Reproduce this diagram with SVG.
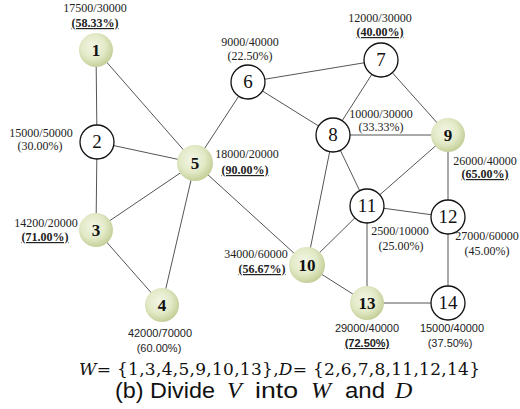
<svg xmlns="http://www.w3.org/2000/svg" width="520" height="409" viewBox="0 0 520 409">
<defs>
<radialGradient id="g" cx="0.42" cy="0.4" r="0.6">
<stop offset="0" stop-color="#f3f6e6"/>
<stop offset="0.6" stop-color="#e2e9c6"/>
<stop offset="1" stop-color="#c4d09a"/>
</radialGradient>
<style>
.e{stroke:#555;stroke-width:1;fill:none}
.w{fill:url(#g);stroke:none}
.d{fill:#fff;stroke:#111;stroke-width:1.3}
.nb{font-family:"Liberation Serif","Times New Roman",serif;font-weight:bold;font-size:17px;text-anchor:middle;fill:#111}
.nd{font-family:"Liberation Serif","Times New Roman",serif;font-size:19px;text-anchor:middle;fill:#111}
.l{font-family:"Liberation Serif","Times New Roman",serif;font-size:12px;text-anchor:middle;fill:#222}
.ls{font-family:"Liberation Sans",Arial,sans-serif;font-size:11px;text-anchor:middle;fill:#222}
.b{font-weight:bold;text-decoration:underline}
.m{font-family:"DejaVu Serif","Liberation Serif",serif;font-size:17px;fill:#111}
.c{font-family:"Liberation Sans",sans-serif;font-size:22px;fill:#111}
.i{font-family:"Liberation Serif",serif;font-style:italic;font-size:24px;fill:#111}
</style>
</defs>
<rect width="520" height="409" fill="#fff"/>
<g id="connectors">
<line class="e" x1="96" y1="50" x2="97" y2="142"/>
<line class="e" x1="96" y1="50" x2="195" y2="163"/>
<line class="e" x1="97" y1="142" x2="96" y2="230"/>
<line class="e" x1="97" y1="142" x2="195" y2="163"/>
<line class="e" x1="96" y1="230" x2="195" y2="163"/>
<line class="e" x1="96" y1="230" x2="162" y2="305"/>
<line class="e" x1="162" y1="305" x2="195" y2="163"/>
<line class="e" x1="195" y1="163" x2="248" y2="82"/>
<line class="e" x1="195" y1="163" x2="307" y2="265"/>
<line class="e" x1="248" y1="82" x2="381" y2="60"/>
<line class="e" x1="248" y1="82" x2="333" y2="135"/>
<line class="e" x1="381" y1="60" x2="333" y2="135"/>
<line class="e" x1="381" y1="60" x2="448" y2="135"/>
<line class="e" x1="333" y1="135" x2="448" y2="135"/>
<line class="e" x1="333" y1="135" x2="367" y2="206"/>
<line class="e" x1="333" y1="135" x2="307" y2="265"/>
<line class="e" x1="448" y1="135" x2="367" y2="206"/>
<line class="e" x1="448" y1="135" x2="448" y2="217"/>
<line class="e" x1="307" y1="265" x2="367" y2="206"/>
<line class="e" x1="367" y1="206" x2="448" y2="217"/>
<line class="e" x1="367" y1="206" x2="367" y2="303"/>
<line class="e" x1="307" y1="265" x2="367" y2="303"/>
<line class="e" x1="448" y1="217" x2="448" y2="303"/>
<line class="e" x1="367" y1="303" x2="448" y2="303"/>
</g>
<g id="n1"><circle class="w" cx="96" cy="50" r="17"/><text class="nb" x="96" y="56">1</text>
<text class="l" x="95" y="12">17500/30000</text><text class="l b" x="95" y="27">(58.33%)</text></g>
<g id="n2"><circle class="d" cx="97" cy="142" r="17"/><text class="nd" x="97" y="148">2</text>
<text class="l" x="41" y="137">15000/50000</text><text class="l" x="40" y="150">(30.00%)</text></g>
<g id="n3"><circle class="w" cx="96" cy="230" r="17"/><text class="nb" x="96" y="236">3</text>
<text class="l" x="46" y="227">14200/20000</text><text class="l b" x="45" y="241">(71.00%)</text></g>
<g id="n4"><circle class="w" cx="162" cy="305" r="17"/><text class="nb" x="162" y="311">4</text>
<text class="ls" x="160" y="337">42000/70000</text><text class="ls" x="159" y="352">(60.00%)</text></g>
<g id="n5"><circle class="w" cx="195" cy="163" r="18"/><text class="nb" x="195" y="169">5</text>
<text class="l" x="247" y="158">18000/20000</text><text class="l b" x="245" y="174">(90.00%)</text></g>
<g id="n6"><circle class="d" cx="248" cy="82" r="17"/><text class="nd" x="248" y="88">6</text>
<text class="l" x="250" y="46">9000/40000</text><text class="l" x="250" y="60">(22.50%)</text></g>
<g id="n7"><circle class="d" cx="381" cy="60" r="17"/><text class="nd" x="381" y="66">7</text>
<text class="l" x="380" y="22">12000/30000</text><text class="l b" x="380" y="36">(40.00%)</text></g>
<g id="n8"><circle class="d" cx="333" cy="135" r="17"/><text class="nd" x="333" y="141">8</text>
<text class="l" x="381" y="118">10000/30000</text><text class="l" x="381" y="131">(33.33%)</text></g>
<g id="n9"><circle class="w" cx="448" cy="135" r="17"/><text class="nb" x="448" y="141">9</text>
<text class="l" x="485" y="165">26000/40000</text><text class="l b" x="485" y="178">(65.00%)</text></g>
<g id="n10"><circle class="w" cx="307" cy="265" r="18"/><text class="nb" x="307" y="271">10</text>
<text class="l" x="256" y="258">34000/60000</text><text class="l b" x="262" y="273">(56.67%)</text></g>
<g id="n11"><circle class="d" cx="367" cy="206" r="17"/><text class="nd" x="367" y="212">11</text>
<text class="l" x="400" y="235">2500/10000</text><text class="l" x="401" y="250">(25.00%)</text></g>
<g id="n12"><circle class="d" cx="448" cy="217" r="17"/><text class="nd" x="448" y="223">12</text>
<text class="l" x="487" y="240">27000/60000</text><text class="l" x="487" y="255">(45.00%)</text></g>
<g id="n13"><circle class="w" cx="367" cy="303" r="17"/><text class="nb" x="367" y="309">13</text>
<text class="ls" x="367" y="332">29000/40000</text><text class="ls b" x="367" y="347">(72.50%)</text></g>
<g id="n14"><circle class="d" cx="448" cy="303" r="17"/><text class="nd" x="448" y="309">14</text>
<text class="ls" x="452" y="332">15000/40000</text><text class="ls" x="450" y="347">(37.50%)</text></g>
<g id="caption">
<text class="m" x="79" y="375" textLength="401" lengthAdjust="spacing"><tspan font-style="italic">W</tspan>= {1,3,4,5,9,10,13},<tspan font-style="italic">D</tspan>= {2,6,7,8,11,12,14}</text>
<text class="c" x="115" y="398" textLength="100" lengthAdjust="spacingAndGlyphs">(b) Divide</text>
<text class="i" x="227" y="398">V</text>
<text class="c" x="255" y="398" textLength="43" lengthAdjust="spacingAndGlyphs">into</text>
<text class="i" x="311" y="398">W</text>
<text class="c" x="345" y="398" textLength="40" lengthAdjust="spacingAndGlyphs">and</text>
<text class="i" x="395" y="398">D</text>
</g>
</svg>
